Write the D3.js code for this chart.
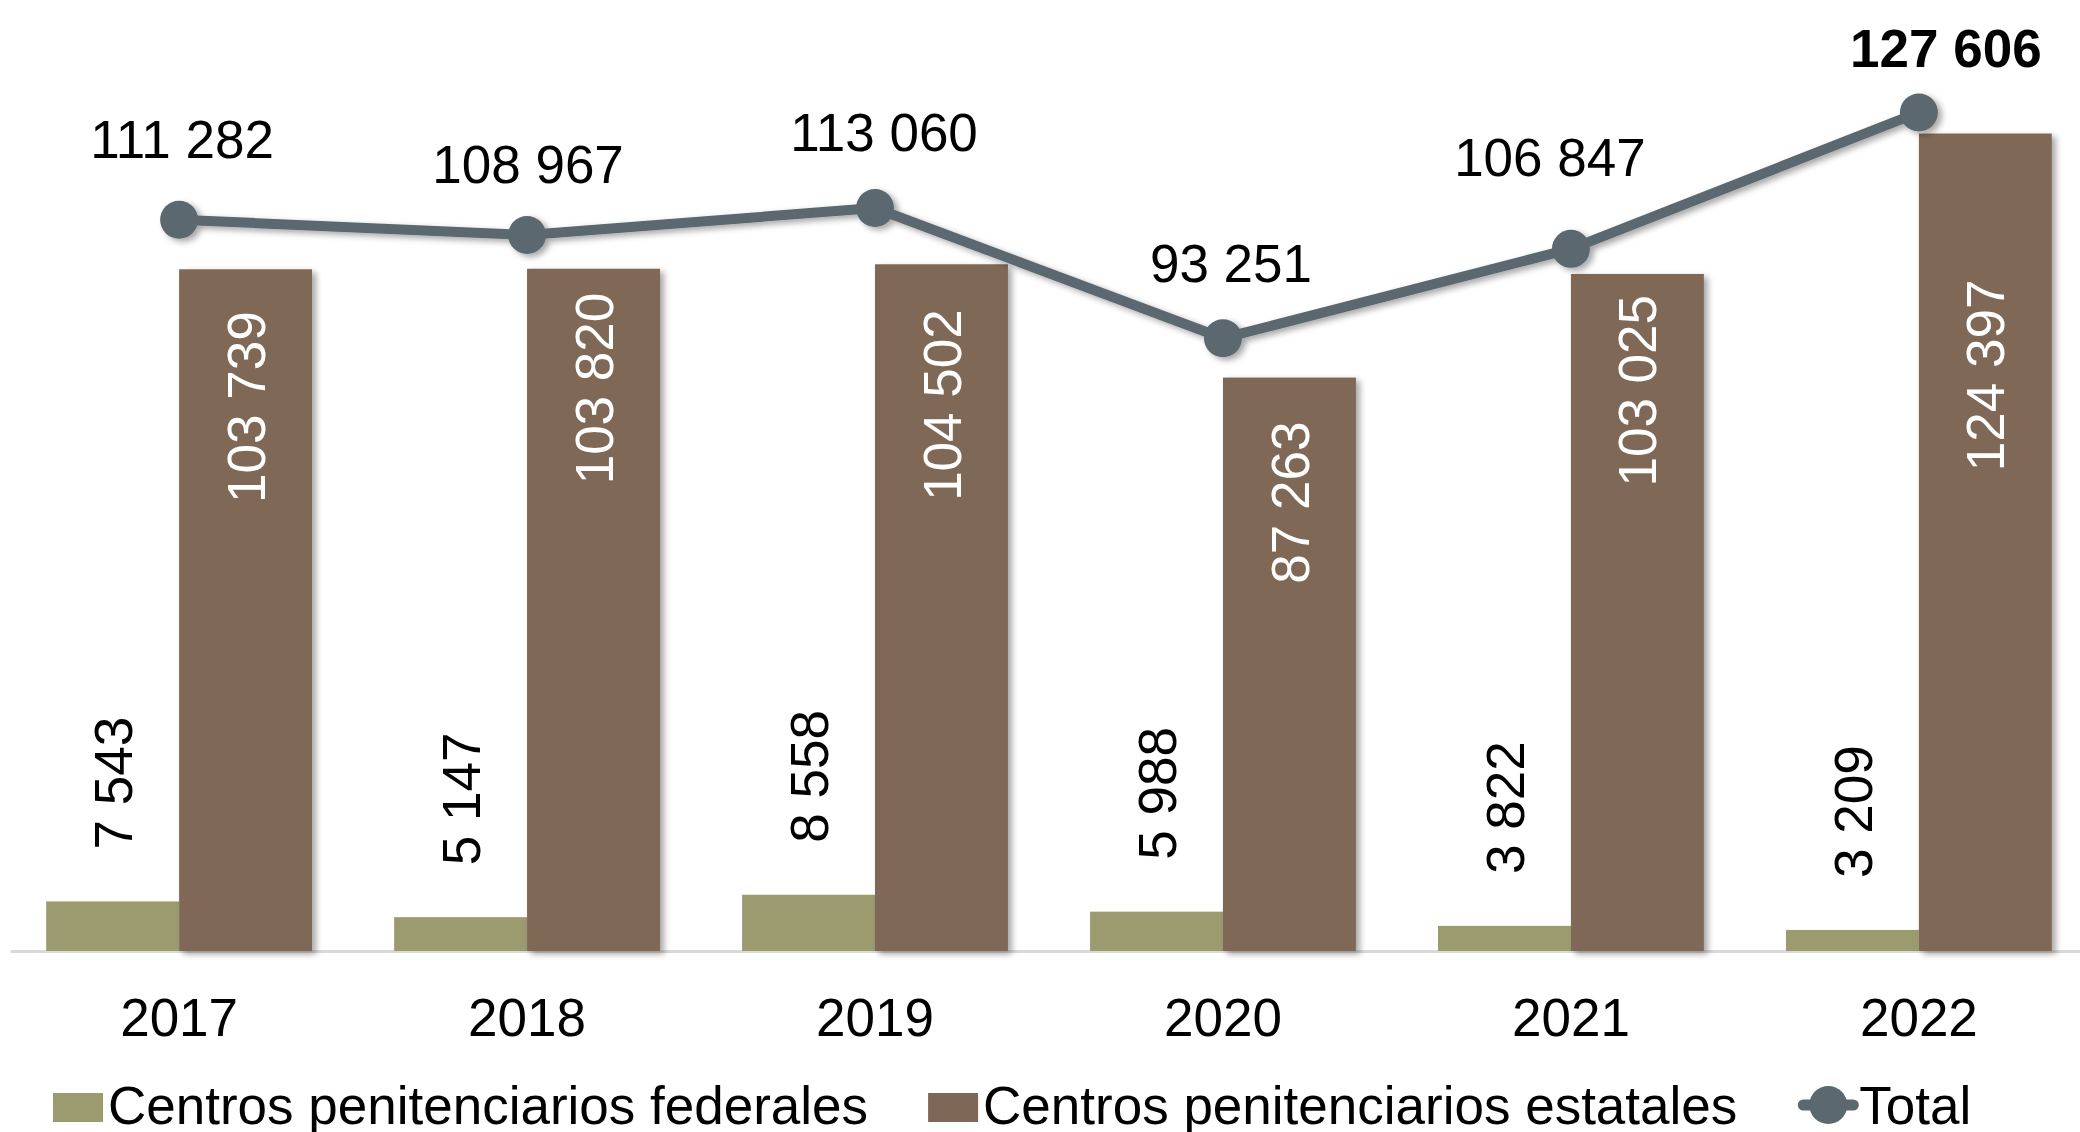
<!DOCTYPE html>
<html>
<head>
<meta charset="utf-8">
<script src="https://cdn.jsdelivr.net/npm/d3@7"></script>
<style>
  html, body { margin: 0; padding: 0; background: #fff; }
  svg { display: block; font-family: 'Liberation Sans', Arial, sans-serif; }
</style>
</head>
<body>
<div id="chart"></div>
<script>
// data
var years = ['2017', '2018', '2019', '2020', '2021', '2022']
var federales = [7543, 5147, 8558, 5988, 3822, 3209]
var estatales = [103739, 103820, 104502, 87263, 103025, 124397]
var totales = [111282, 108967, 113060, 93251, 106847, 127606]
var seriesNames = ['Centros penitenciarios federales', 'Centros penitenciarios estatales', 'Total']

// hand placed label nudges (like in the original excel chart)
var totalNudge = [[3, -62], [1, -52], [9, -57], [8, -56], [-21, -73], [27, -45]]
var estatalGap = [42, 24, 45, 44, 21, 146]

var width = 2080
var height = 1132
var fontSize = 53

var colFed = '#9c9a6f'
var colEst = '#7f6757'
var colTot = '#5b6870'

var fmt = d3.formatLocale({ decimal: '.', thousands: ' ', grouping: [3], currency: ['', ''] }).format(',')

var svg = d3.select('#chart')
  .append('svg')
  .attr('width', width)
  .attr('height', height)

svg.append('rect').attr('width', width).attr('height', height).attr('fill', '#fff')

var defs = svg.append('defs')
var shadow = defs.append('filter').attr('id', 'shadow')
  .attr('x', '-20%').attr('y', '-20%').attr('width', '140%').attr('height', '140%')
shadow.append('feDropShadow')
  .attr('dx', 4).attr('dy', 3).attr('stdDeviation', 3)
  .attr('flood-color', '#000').attr('flood-opacity', 0.35)

var xPositionScale = d3.scaleBand()
  .domain(years)
  .range([10, 2088])
  .paddingInner(0.236)
  .paddingOuter(0.104)

var bw = xPositionScale.bandwidth() / 2

var yPositionScale = d3.scaleLinear()
  .domain([0, 140000])
  .range([951, 31])

var rows = years.map(function(y, i) {
  return { year: y, fed: federales[i], est: estatales[i], tot: totales[i], i: i }
})

// axis
var xAxis = d3.axisBottom(xPositionScale).tickSize(0).tickPadding(47)
var axisG = svg.append('g')
  .attr('class', 'axis x-axis')
  .attr('transform', 'translate(0,' + yPositionScale(0) + ')')
  .call(xAxis)
axisG.select('.domain').attr('stroke', '#d9d9d9').attr('stroke-width', 3)
axisG.selectAll('text')
  .attr('font-size', fontSize)
  .attr('font-family', "'Liberation Sans', Arial, sans-serif")
  .attr('fill', '#000')

// bars
svg.append('g').selectAll('rect')
  .data(rows)
  .enter()
  .append('rect')
  .attr('x', d => xPositionScale(d.year))
  .attr('y', d => yPositionScale(d.fed))
  .attr('width', bw)
  .attr('height', d => yPositionScale(0) - yPositionScale(d.fed))
  .attr('fill', colFed)

svg.append('g').selectAll('rect')
  .data(rows)
  .enter()
  .append('rect')
  .attr('x', d => xPositionScale(d.year) + bw)
  .attr('y', d => yPositionScale(d.est))
  .attr('width', bw)
  .attr('height', d => yPositionScale(0) - yPositionScale(d.est))
  .attr('fill', colEst)
  .attr('filter', 'url(#shadow)')

// bar labels
svg.append('g').selectAll('text')
  .data(rows)
  .enter()
  .append('text')
  .attr('transform', d => 'translate(' + (xPositionScale(d.year) + bw / 2) + ',' + (yPositionScale(d.fed) - 52) + ') rotate(-90)')
  .attr('dy', '0.36em')
  .attr('font-size', fontSize)
  .attr('fill', '#000')
  .attr('text-anchor', 'start')
  .text(d => fmt(d.fed))

svg.append('g').selectAll('text')
  .data(rows)
  .enter()
  .append('text')
  .attr('transform', d => 'translate(' + (xPositionScale(d.year) + bw * 1.5) + ',' + (yPositionScale(d.est) + estatalGap[d.i]) + ') rotate(-90)')
  .attr('dy', '0.36em')
  .attr('font-size', fontSize)
  .attr('fill', '#fff')
  .attr('text-anchor', 'end')
  .text(d => fmt(d.est))

// total line
var line = d3.line()
  .x(d => xPositionScale(d.year) + bw)
  .y(d => yPositionScale(d.tot))

var lineG = svg.append('g').attr('filter', 'url(#shadow)')
lineG.append('path')
  .datum(rows)
  .attr('d', line)
  .attr('fill', 'none')
  .attr('stroke', colTot)
  .attr('stroke-width', 10)
  .attr('stroke-linejoin', 'round')

lineG.selectAll('circle')
  .data(rows)
  .enter()
  .append('circle')
  .attr('cx', d => xPositionScale(d.year) + bw)
  .attr('cy', d => yPositionScale(d.tot))
  .attr('r', 19)
  .attr('fill', colTot)

svg.append('g').selectAll('text')
  .data(rows)
  .enter()
  .append('text')
  .attr('x', d => xPositionScale(d.year) + bw + totalNudge[d.i][0])
  .attr('y', d => yPositionScale(d.tot) + totalNudge[d.i][1])
  .attr('text-anchor', 'middle')
  .attr('font-size', fontSize)
  .attr('font-weight', d => d.i === years.length - 1 ? 'bold' : 'normal')
  .attr('fill', '#000')
  .text(d => fmt(d.tot))

// legend
var legend = svg.append('g').attr('transform', 'translate(53,1107)')
var lx = 0
seriesNames.forEach(function(name, i) {
  var g = legend.append('g').attr('transform', 'translate(' + lx + ',0)')
  var keyW
  if (i < 2) {
    g.append('rect')
      .attr('x', 0).attr('y', -14)
      .attr('width', 50).attr('height', 29)
      .attr('fill', i === 0 ? colFed : colEst)
    keyW = 55
  } else {
    g.append('line')
      .attr('x1', 6).attr('x2', 56).attr('y1', -2).attr('y2', -2)
      .attr('stroke', colTot).attr('stroke-width', 11)
      .attr('stroke-linecap', 'round')
    g.append('circle').attr('cx', 31).attr('cy', -2).attr('r', 19).attr('fill', colTot)
    keyW = 62
  }
  var t = g.append('text')
    .attr('x', keyW)
    .attr('y', 17)
    .attr('font-size', fontSize)
    .attr('fill', '#000')
    .text(name)
  lx += keyW + t.node().getComputedTextLength() + 60
})
</script>
</body>
</html>
